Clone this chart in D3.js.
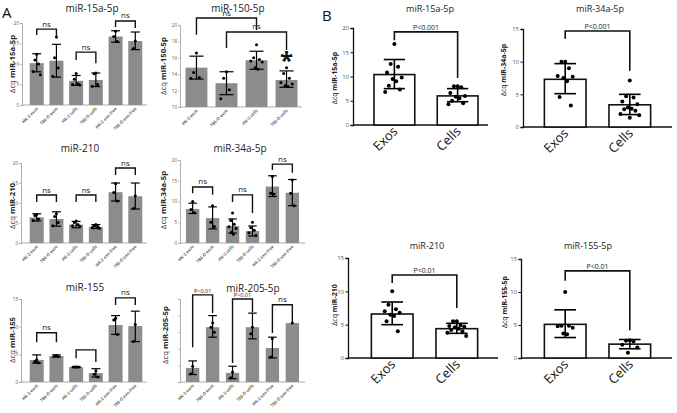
<!DOCTYPE html>
<html><head><meta charset="utf-8">
<script src="https://cdn.jsdelivr.net/npm/d3@7"></script>
<style>body{margin:0;background:#fff} svg{display:block;font-family:"Open Sans",sans-serif}</style>
</head><body><svg id="c" width="677" height="413"></svg>
<script>
// ---------- data ----------
const catsA6 = ["HK-2 exos","786-O exos","HK-2 cells","786-O cells","HK-2 exo-free","786-O exo-free"];
const catsA4 = ["HK-2 exos","786-O exos","HK-2 cells","786-O cells"];
const catsB = ["Exos","Cells"];

// A: miR-15a-5p
const a1Mean = [10.2, 10.8, 5.9, 6.1, 16.7, 15.6];
const a1Lo   = [8.1, 6.8, 4.8, 4.5, 15.3, 13.5];
const a1Hi   = [12.5, 14.8, 7.2, 7.8, 18.1, 17.8];
const a1Pts  = [[12.4,11.0,10.0,8.2,7.4],[16.6,11.5,9.0,7.0],[7.7,6.3,5.2,5.0,4.9],[7.8,7.6,5.0,4.6],[18.0,16.7,15.5],[15.6,13.8]];
// A: miR-150-5p
const a2Mean = [14.8, 12.9, 15.7, 13.3];
const a2Lo   = [13.4, 11.5, 14.6, 12.4];
const a2Hi   = [16.2, 14.3, 16.8, 14.4];
const a2Pts  = [[16.6,14.2,13.6,13.5],[14.3,13.5,12.1,11.0],[17.6,16.0,15.8,15.6,15.5,14.8,14.6],[14.8,14.1,13.5,13.0,12.8,12.6,12.5]];
// A: miR-210
const a3Mean = [6.4, 6.0, 4.6, 4.0, 12.7, 11.7];
const a3Lo   = [5.5, 4.2, 3.8, 3.6, 10.5, 8.5];
const a3Hi   = [7.3, 7.8, 5.4, 4.6, 15.0, 15.0];
const a3Pts  = [[7.1,6.9,6.0,5.6],[7.3,6.6,5.1,4.3],[5.5,5.1,4.6,4.3,4.1],[4.6,4.3,4.1,3.9,3.7],[14.8,12.6,10.5],[11.8,8.6]];
// A: miR-34a-5p
const a4Mean = [8.2, 6.0, 4.1, 2.9, 13.6, 12.1];
const a4Lo   = [7.1, 3.4, 2.4, 1.7, 11.2, 9.0];
const a4Hi   = [9.6, 8.7, 5.8, 4.1, 16.2, 15.3];
const a4Pts  = [[10.0,8.1,7.3],[9.0,5.0,4.0],[7.2,5.4,4.5,3.9,3.5,2.6,2.1],[5.0,3.7,3.1,2.5,1.8],[16.0,12.0,11.8],[15.2,12.0,9.0]];
// A: miR-155
const a5Mean = [4.0, 4.7, 2.7, 1.6, 10.3, 10.1];
const a5Lo   = [3.4, 4.5, 2.6, 0.9, 8.6, 7.3];
const a5Hi   = [4.9, 4.9, 2.8, 2.4, 12.0, 12.8];
const a5Pts  = [[4.0,3.7,3.5],[4.8,4.7,4.6],[2.7,2.7,2.7],[2.0,1.4,0.9],[11.5,11.2,8.6],[10.4,7.3]];
// A: miR-205-5p
const a6Mean = [0.85, 3.3, 0.55, 3.3, 2.05, 3.55];
const a6Lo   = [0.45, 2.7, 0.2, 2.6, 1.45, 3.55];
const a6Hi   = [1.27, 4.0, 0.95, 4.15, 2.7, 3.55];
const a6Pts  = [[0.95,0.5],[3.55,3.3,3.0],[0.6,0.25],[3.3,2.9],[2.6,1.5],[3.55]];

// B
const b1Mean = [10.4, 6.0], b1Lo = [7.5, 4.8], b1Hi = [13.5, 7.5];
const b1Pts = [[16.7,12.6,12.0,10.8,9.8,9.5,9.0,8.1,7.3,6.8],[8.0,8.0,7.8,6.6,6.0,5.8,5.5,5.0,4.5,4.3]];
const b2Mean = [7.3, 3.4], b2Lo = [5.1, 1.9], b2Hi = [9.7, 5.0];
const b2Pts = [[10.0,10.0,9.0,7.8,7.7,7.5,7.0,4.6,3.3],[7.1,4.7,4.5,3.9,3.5,3.0,2.8,2.7,2.5,2.0,1.8,1.4]];
const b3Mean = [6.6, 4.4], b3Lo = [5.0, 3.7], b3Hi = [8.4, 5.2];
const b3Pts = [[10.0,8.0,7.3,7.0,6.8,6.5,6.3,5.5,4.0],[5.5,5.5,4.9,4.8,4.7,4.6,4.4,4.2,4.0,3.8,3.3]];
const b4Mean = [5.1, 2.1], b4Lo = [3.1, 1.4], b4Hi = [7.3, 2.8];
const b4Pts = [[10.0,4.9,4.9,4.8,4.6,3.7,3.6],[2.7,2.6,2.5,2.0,1.6,0.8]];

// significance brackets: [barA, barB, top, legA, legB, label] (data units)
const a1Sig = [[0,1,18.5,17.1,16.3,"ns"],[2,3,12.9,11.0,10.2,"ns"],[4,5,20.5,19.0,18.8,"ns"]];
const a2Sig = [[0,2,20.85,18.8,19.4,"ns"],[1,3,19.15,17.2,16.95,"ns"]];
const a3Sig = [[0,1,12.0,10.25,10.25,"ns"],[2,3,12.0,10.25,10.25,"ns"],[4,5,18.75,17.0,17.0,"ns"]];
const a4Sig = [[0,1,13.5,12.0,11.6,"ns"],[2,3,11.6,9.9,7.2,"ns"],[4,5,19.0,17.6,16.9,"ns"]];
const a5Sig = [[0,1,8.9,7.2,7.2,"ns"],[2,3,5.8,4.3,3.6,""],[4,5,15.2,13.9,13.9,"ns"]];
const a6Sig = [[0,1,5.25,2.1,4.15,"P<0.01"],[2,3,5.0,1.15,4.2,"P<0.01"],[4,5,4.65,2.95,3.6,"ns"]];
const b1Sig = [[0,1,19.2,17.5,9.7,"P<0.001"]];
const b2Sig = [[0,1,14.7,13.5,8.6,"P<0.001"]];
const b3Sig = [[0,1,12.45,11.25,7.5,"P<0.01"]];
const b4Sig = [[0,1,13.2,11.7,4.2,"P<0.01"]];

const ticks20 = [0,5,10,15,20], ticks15 = [0,5,10,15], ticks150 = [10,12,14,16,18,20], ticks5 = [0,1,2,3,4,5];

// ---------- drawing ----------
const svg = d3.select("#c");
const jit = [0,-1,1,-2,2,-0.5,0.5,-1.5,1.5,-2.5,2.5,0];

function panel(c){
  const g = svg.append("g");
  const A = c.style === "A";
  const y = d3.scaleLinear().domain(c.dom).range([c.yBot, c.yTop]);
  const x = d3.scaleBand().domain(c.cats).range([c.bx0, c.bx1]).paddingInner(c.pi).paddingOuter(c.po);
  const bw = x.bandwidth();
  const axCol = A ? "#9a9a9a" : "#111";
  // y axis
  const ya = g.append("g").attr("transform", `translate(${c.yx},0)`)
    .call(d3.axisLeft(y).tickValues(c.ticks).tickSize(A?2:2.5).tickFormat(c.noLabels ? "" : d3.format("d")));
  ya.select(".domain").attr("stroke", axCol).attr("stroke-width", A?0.8:1.3);
  ya.selectAll(".tick line").attr("stroke", axCol).attr("stroke-width", A?0.6:1);
  ya.selectAll(".tick text").attr("font-size", A?4.5:6).attr("fill", "#555").attr("x", A?-3:-4)
    .attr("font-family", "'Open Sans',sans-serif");
  // x axis line
  g.append("line").attr("x1", c.yx).attr("x2", c.xEnd).attr("y1", c.yBot).attr("y2", c.yBot)
    .attr("stroke", axCol).attr("stroke-width", A?0.8:1.5);
  // bars
  c.cats.forEach((cat,i)=>{
    const x0 = x(cat), cx = x0 + bw/2;
    if (A) {
      g.append("rect").attr("x", x0).attr("width", bw).attr("y", y(c.mean[i])).attr("height", c.yBot - y(c.mean[i]))
        .attr("fill", "#8c8c8c");
    } else {
      g.append("rect").attr("x", x0).attr("width", bw).attr("y", y(c.mean[i])).attr("height", c.yBot - y(c.mean[i]))
        .attr("fill", "#fff").attr("stroke", "#111").attr("stroke-width", 1.6);
    }
    // points
    const sp = A ? bw*0.13 : bw*0.09;
    c.pts[i].forEach((v,j)=>{
      g.append("circle").attr("cx", cx + jit[j % jit.length]*sp).attr("cy", y(v)).attr("r", A?1.5:2).attr("fill", "#000");
    });
    // error bar
    const cap = A ? bw*0.32 : bw*0.26;
    const lw = A ? 1.2 : 1.6;
    if (c.hi[i] > c.lo[i]) {
      g.append("line").attr("x1", cx).attr("x2", cx).attr("y1", y(c.lo[i])).attr("y2", y(c.hi[i])).attr("stroke", "#000").attr("stroke-width", lw);
      [c.lo[i], c.hi[i]].forEach(v=>{
        g.append("line").attr("x1", cx-cap).attr("x2", cx+cap).attr("y1", y(v)).attr("y2", y(v)).attr("stroke", "#000").attr("stroke-width", lw);
      });
    }
    // x labels
    const tx = cx + (A?1.5:4), ty = c.yBot + (A?4:7);
    g.append("text").attr("transform", `translate(${tx},${ty}) rotate(-45)`)
      .attr("text-anchor", "end").attr("font-size", A?4.3:13).attr("fill", A?"#444":"#111")
      .attr("font-weight", A?600:400).text(cat);
  });
  // brackets
  c.sig.forEach(s=>{
    const xa = x(c.cats[s[0]]) + bw/2, xb = x(c.cats[s[1]]) + bw/2;
    g.append("path").attr("d", `M${xa},${y(s[3])}V${y(s[2])}H${xb}V${y(s[4])}`)
      .attr("fill","none").attr("stroke","#111").attr("stroke-width", A?1.4:1.6);
    if (s[5]) g.append("text").attr("x", (xa+xb)/2).attr("y", y(s[2]) - (s[5]==="ns"?2.5:2))
      .attr("text-anchor","middle").attr("font-size", s[5]==="ns"?8:(A?5.5:7)).attr("fill","#222").text(s[5]);
  });
  // title
  g.append("text").attr("x", c.tx).attr("y", c.ty).attr("text-anchor","middle")
    .attr("font-size", A?10:9).attr("fill","#222").text(c.title);
  // y label
  const yl = g.append("text").attr("transform", `translate(${c.lx},${c.ly}) rotate(-90)`)
    .attr("text-anchor","middle").attr("font-size", A?7.8:7).attr("fill","#222");
  yl.append("tspan").text("Δcq ");
  yl.append("tspan").attr("font-weight", 700).text(c.title);
  return {g, x, y, bw};
}

const LA = {bx0:24, bx1:148, pi:0.29, po:0.29, xEnd:147};
const RA = {bx0:181, bx1:304, pi:0.33, po:0.25, xEnd:305};

panel({style:"A", cats:catsA6, mean:a1Mean, lo:a1Lo, hi:a1Hi, pts:a1Pts, sig:a1Sig, dom:[0,20], ticks:ticks20,
  yx:22, yTop:23, yBot:105, ...LA, title:"miR-15a-5p", tx:92, ty:12, lx:15, ly:64});
const p2 = panel({style:"A", cats:catsA4, mean:a2Mean, lo:a2Lo, hi:a2Hi, pts:a2Pts, sig:a2Sig, dom:[10,20], ticks:ticks150,
  yx:180, yTop:25, yBot:107, bx0:181, bx1:302, pi:0.27, po:0.15, xEnd:302, title:"miR-150-5p", tx:238, ty:12, lx:166, ly:66});
p2.g.append("text").attr("x", p2.x(catsA4[3]) + p2.bw/2).attr("y", p2.y(14.6)).attr("text-anchor","middle")
  .attr("font-size", 24).attr("font-weight", 700).attr("fill","#111").text("*");
panel({style:"A", cats:catsA6, mean:a3Mean, lo:a3Lo, hi:a3Hi, pts:a3Pts, sig:a3Sig, dom:[0,20], ticks:ticks20,
  yx:21, yTop:163, yBot:243, ...LA, title:"miR-210", tx:80, ty:152, lx:15, ly:206});
panel({style:"A", cats:catsA6, mean:a4Mean, lo:a4Lo, hi:a4Hi, pts:a4Pts, sig:a4Sig, dom:[0,20], ticks:ticks20,
  yx:180, yTop:160, yBot:243, ...RA, title:"miR-34a-5p", tx:240, ty:152, lx:166, ly:200});
panel({style:"A", cats:catsA6, mean:a5Mean, lo:a5Lo, hi:a5Hi, pts:a5Pts, sig:a5Sig, dom:[0,15], ticks:ticks15,
  yx:21, yTop:299, yBot:382, ...LA, title:"miR-155", tx:85, ty:291, lx:15, ly:340});
panel({style:"A", cats:catsA6, mean:a6Mean, lo:a6Lo, hi:a6Hi, pts:a6Pts, sig:a6Sig, dom:[0,5], ticks:ticks5, noLabels:true,
  yx:180, yTop:299, yBot:382, ...RA, title:"miR-205-5p", tx:253, ty:292, lx:168, ly:335});

const LB = {bx0:355, bx1:497, pi:0.355, po:0.3};
const RB = {bx0:525, bx1:670, pi:0.355, po:0.3};
panel({style:"B", cats:catsB, mean:b1Mean, lo:b1Lo, hi:b1Hi, pts:b1Pts, sig:b1Sig, dom:[0,20], ticks:ticks20,
  yx:353, yTop:28, yBot:125, ...LB, xEnd:488, title:"miR-15a-5p", tx:430, ty:12, lx:337, ly:78});
panel({style:"B", cats:catsB, mean:b2Mean, lo:b2Lo, hi:b2Hi, pts:b2Pts, sig:b2Sig, dom:[0,15], ticks:ticks15,
  yx:523, yTop:29, yBot:127, ...RB, xEnd:672, title:"miR-34a-5p", tx:600, ty:12, lx:506, ly:70});
panel({style:"B", cats:catsB, mean:b3Mean, lo:b3Lo, hi:b3Hi, pts:b3Pts, sig:b3Sig, dom:[0,15], ticks:ticks15,
  yx:348, yTop:258, yBot:358, bx0:352, bx1:497, pi:0.355, po:0.3, xEnd:498, title:"miR-210", tx:427, ty:249, lx:337, ly:305});
panel({style:"B", cats:catsB, mean:b4Mean, lo:b4Lo, hi:b4Hi, pts:b4Pts, sig:b4Sig, dom:[0,15], ticks:ticks15,
  yx:521, yTop:259, yBot:358, ...RB, xEnd:672, title:"miR-155-5p", tx:588, ty:249, lx:507, ly:302});

// panel letters
svg.append("text").attr("x", 2).attr("y", 18).attr("font-size", 15).attr("fill","#111").text("A");
svg.append("text").attr("x", 322).attr("y", 21).attr("font-size", 15).attr("fill","#111").text("B");
</script></body></html>
